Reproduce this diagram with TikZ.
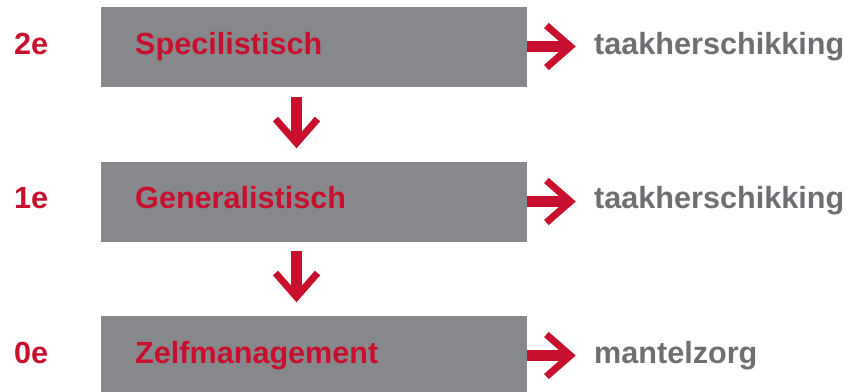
\documentclass[tikz,border=0pt]{standalone}
\usepackage{fontspec}
\setmainfont{Liberation Sans}
\usetikzlibrary{calc}
\definecolor{cred}{HTML}{C8102E}
\definecolor{cbox}{HTML}{87888B}
\definecolor{cgray}{HTML}{6E6F72}
\begin{document}
\begin{tikzpicture}[x=1pt,y=-1pt,
  levelbox/.style={fill=cbox,draw=none,minimum width=426pt,minimum height=80pt,inner sep=0pt,anchor=north west},
  boxtext/.style={text=cred,font=\fontsize{30.6pt}{30.6pt}\selectfont\bfseries,anchor=base west,inner sep=0pt},
  lvl/.style={text=cred,font=\fontsize{30.6pt}{30.6pt}\selectfont\bfseries,anchor=base west,inner sep=0pt},
  outtext/.style={text=cgray,font=\fontsize{30.6pt}{30.6pt}\selectfont\bfseries,anchor=base west,inner sep=0pt},
  shaft/.style={draw=cred,line width=11pt,line cap=butt},
  chev/.style={draw=cred,line width=7pt,line join=miter,line cap=butt}]
\useasboundingbox (0,0) rectangle (851,391);
% boxes
\node[levelbox] (b1) at (101,7) {};
\node[levelbox] (b2) at (101,162) {};
\node[levelbox] (b3) at (101,316) {};
% box texts
\node[boxtext] (t1) at (135,54) {Specilistisch};
\node[boxtext] (t2) at (135,208.5) {Generalistisch};
\node[boxtext] (t3) at (135,363) {Zelfmanagement};
% level labels
\node[lvl] (l1) at (14,54) {2e};
\node[lvl] (l2) at (14,208.5) {1e};
\node[lvl] (l3) at (14,363) {0e};
% outputs
\node[outtext] (o1) at (594,54) {taakherschikking};
\node[outtext] (o2) at (594,208.5) {taakherschikking};
\node[outtext] (o3) at (594,363) {mantelzorg};
% right arrows
\foreach \b in {1,2,3}{
  \coordinate (rt\b) at ($(b\b.north east)+(43,39.5)$);
  \draw[shaft] (b\b.north east |- rt\b) -- ($(rt\b)+(-5,0)$);
  \draw[chev] ($(rt\b)+(-24,-21)$) -- (rt\b) -- ($(rt\b)+(-24,21)$);
}
% down arrows
\coordinate (d1s) at (296.5,97);
\coordinate (d1t) at (296.5,143);
\coordinate (d2s) at (296.5,251);
\coordinate (d2t) at (296.5,297);
\foreach \d in {1,2}{
  \draw[shaft] (d\d s) -- ($(d\d t)+(0,-5)$);
  \draw[chev] ($(d\d t)+(-21,-24)$) -- (d\d t) -- ($(d\d t)+(21,-24)$);
}
\end{tikzpicture}
\end{document}
